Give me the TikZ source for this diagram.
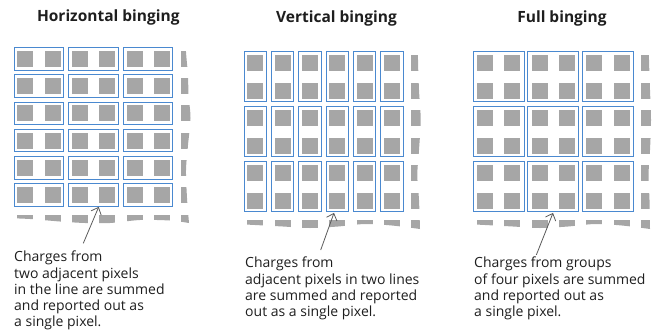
\documentclass[tikz,border=0pt]{standalone}
\usepackage{fontspec}
\setmainfont{Open Sans}
\usetikzlibrary{arrows.meta}
\definecolor{boxblue}{HTML}{4A89D0}
\definecolor{pixgray}{HTML}{A6A6A6}
\definecolor{textblack}{HTML}{1E1E1E}
\definecolor{arrowgray}{HTML}{5A5A5A}
\begin{document}
\begin{tikzpicture}[x=1pt,y=-1pt,
  pix/.style={fill=pixgray, draw=none},
  binbox/.style={draw=boxblue, line width=1pt},
  paneltitle/.style={font=\bfseries\fontsize{15.5}{18}\selectfont, text=textblack, anchor=base, inner sep=0pt},
  caption/.style={font=\fontsize{14}{16.2}\selectfont, text=textblack, align=left, anchor=north west, inner sep=0pt},
  pointer/.style={draw=arrowgray, line width=0.8pt, -{Straight Barb[length=6pt,width=11pt]}}]
\useasboundingbox (0,0) rectangle (672,335);

% ---------- Panel 1: horizontal ----------
\node[paneltitle] (t1) at (108.3,21.7) {Horizontal binging};
\begin{scope}
  \clip (0,30) -- plot[smooth] coordinates {(185.5,30) (186,52) (188,75) (188.5,95) (190.5,118) (188,145) (186,170) (187,198) (189,223)}
        -- plot[smooth] coordinates {(189,223) (170,220.5) (140,220) (110,223) (85,223) (60,221.5) (30,219) (5,218)} -- cycle;
  \foreach \c in {0,...,6}
    \foreach \r in {0,...,6}
      \fill[pix] ({17.3+27.3*\c},{50.7+27.3*\r}) rectangle ++(16,16);
\end{scope}
\foreach \c in {0,1,2}
  \foreach \r in {0,...,5}
    \draw[binbox] ({14+54.6*\c},{47.4+27.3*\r}) rectangle ++(49.6,22.6);
\coordinate (tip1) at (98.7,206.9);
\coordinate (tail1) at (83.3,243.3);
\draw[pointer] (tail1) -- (tip1);
\node[caption] (c1) at (14,251) {Charges from\\two adjacent pixels\\in the line are summed\\and reported out as\\a single pixel.};

% ---------- Panel 2: vertical ----------
\node[paneltitle] (t2) at (336.5,22.7) {Vertical binging};
\begin{scope}
  \clip (224,30) -- plot[smooth] coordinates {(418,30) (418,60) (419,90) (420.7,120) (419,150) (417.3,175) (419,200) (420,229)}
        -- plot[smooth] coordinates {(420,229) (392,225.5) (365,224) (338,226.5) (310,228) (283,226.5) (255,225) (235,224)} -- cycle;
  \foreach \c in {0,...,6}
    \foreach \r in {0,...,6}
      \fill[pix] ({247.3+27.3*\c},{55.2+27.5*\r}) rectangle ++(16,16);
\end{scope}
\foreach \c in {0,...,5}
  \foreach \r in {0,1,2}
    \draw[binbox] ({244.3+27.3*\c},{51.7+55*\r}) rectangle ++(22.2,50);
\coordinate (tip2) at (334,212.9);
\coordinate (tail2) at (320.7,250);
\draw[pointer] (tail2) -- (tip2);
\node[caption] (c2) at (245,257) {Charges from\\adjacent pixels in two lines\\are summed and reported\\out as a single pixel.};

% ---------- Panel 3: full ----------
\node[paneltitle] (t3) at (562,22.7) {Full binging};
\begin{scope}
  \clip (448,30) -- plot[smooth] coordinates {(648.5,30) (649,60) (650,90) (651,120) (650,150) (648.5,175) (649.5,200) (650,229)}
        -- plot[smooth] coordinates {(650,229) (622,225.5) (595,224) (568,226.5) (540,228) (513,226.5) (485,225) (465,224)} -- cycle;
  \foreach \c in {0,...,6}
    \foreach \r in {0,...,6}
      \fill[pix] ({477+27.3*\c},{55.2+27.5*\r}) rectangle ++(16,16);
\end{scope}
\foreach \c in {0,1,2}
  \foreach \r in {0,1,2}
    \draw[binbox] ({473+54.6*\c},{51.7+55*\r}) rectangle ++(51.3,50);
\coordinate (tip3) at (553,212.9);
\coordinate (tail3) at (536.3,255);
\draw[pointer] (tail3) -- (tip3);
\node[caption] (c3) at (474,257) {Charges from groups\\of four pixels are summed\\and reported out as\\a single pixel.};
\end{tikzpicture}
\end{document}
